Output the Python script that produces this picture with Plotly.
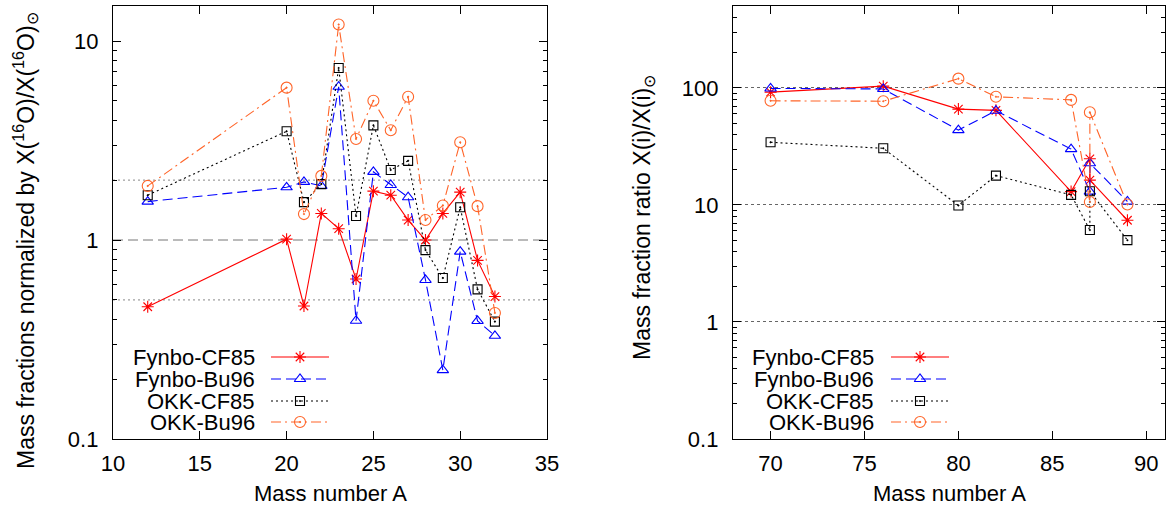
import plotly.graph_objects as go

W, H = 1174, 508

# ---------------- data ----------------
mass_left = [12, 20, 21, 22, 23, 24, 25, 26, 27, 28, 29, 30, 31, 32]
fynbo_cf85_left = [0.462, 1.01, 0.466, 1.36, 1.14, 0.637, 1.76, 1.68, 1.26, 1.00, 1.36, 1.74, 0.79, 0.52]
fynbo_bu96_left = [1.56, 1.84, 1.96, 1.87, 5.89, 0.393, 2.20, 1.89, 1.64, 0.63, 0.222, 0.874, 0.392, 0.330]
okk_cf85_left = [1.68, 3.52, 1.55, 1.91, 7.32, 1.32, 3.77, 2.25, 2.50, 0.89, 0.644, 1.46, 0.565, 0.389]
okk_bu96_left = [1.87, 5.83, 1.35, 2.10, 12.1, 3.22, 5.01, 3.56, 5.25, 1.26, 1.49, 3.10, 1.48, 0.43]

mass_right = [70, 76, 80, 82, 86, 87, 87, 89]
fynbo_cf85_right = [92, 103.5, 65.9, 64.3, 13.0, 24.8, 16.3, 7.4]
fynbo_bu96_right = [99, 98, 43.6, 63.8, 30, 13, 22.7, 10.7]
okk_cf85_right = [34.3, 30.5, 9.9, 17.8, 12.2, 6.1, 13.1, 5.0]
okk_bu96_right = [77.6, 77, 120, 84, 79, 10.6, 62, 10.1]

series_names = ["Fynbo-CF85", "Fynbo-Bu96", "OKK-CF85", "OKK-Bu96"]
left_values = [fynbo_cf85_left, fynbo_bu96_left, okk_cf85_left, okk_bu96_left]
right_values = [fynbo_cf85_right, fynbo_bu96_right, okk_cf85_right, okk_bu96_right]

left_xticks = [10, 15, 20, 25, 30, 35]
right_xticks = [70, 75, 80, 85, 90]
left_yticks = [0.1, 1, 10]
right_yticks = [0.1, 1, 10, 100]
left_dotted_refs = [0.5, 2]
left_dashed_refs = [1]

# ---------------- styles ----------------
FONT = "Liberation Sans, Arial, sans-serif"
FS = 22
FS_YT = 23
styles = [
    dict(color="#ff0000", dash="solid", symbol="asterisk-open", size=10),
    dict(color="#0000ff", dash="10px,5px", symbol="triangle-up-open", size=10),
    dict(color="#000000", dash="2px,3px", symbol="square-open-dot", size=9),
    dict(color="#ff6428", dash="10px,4px,2px,4px", symbol="circle-open-dot", size=11),
]

# pixel geometry
LX0, LX1 = 113, 547
RX0, RX1 = 733, 1165
PY0, PY1 = 6, 439


def px(x):
    return x / W


def py(y):
    return 1 - y / H


fig = go.Figure()


def add_series(xs, ys, st, xa, ya, name):
    fig.add_trace(go.Scatter(
        x=xs, y=ys, mode="lines+markers", name=name, showlegend=False,
        xaxis=xa, yaxis=ya, cliponaxis=False,
        line=dict(color=st["color"], width=1.1, dash=st["dash"]),
        marker=dict(symbol=st["symbol"], size=st["size"], color=st["color"],
                    line=dict(color=st["color"], width=1.1)),
    ))


# reference lines on left panel (drawn first, underneath)
for v in left_dotted_refs:
    fig.add_shape(type="line", xref="x domain", yref="y", x0=0, x1=1, y0=v, y1=v,
                  line=dict(color="#888888", width=1, dash="2px,3px"), layer="below")
for v in left_dashed_refs:
    fig.add_shape(type="line", xref="x domain", yref="y", x0=0, x1=1, y0=v, y1=v,
                  line=dict(color="#777777", width=1, dash="10px,5px"), layer="below")

for name, vals, st in zip(series_names, left_values, styles):
    add_series(mass_left, vals, st, "x", "y", name)
for name, vals, st in zip(series_names, right_values, styles):
    add_series(mass_right, vals, st, "x2", "y2", name)

# ---------------- custom gnuplot-style keys ----------------
key_rows = [357, 379, 401, 422]
keys = [
    dict(text_right=257, line0=271, line1=329),
    dict(text_right=876, line0=891, line1=949),
]
annotations = []
for k in keys:
    for name, st, yr in zip(series_names, styles, key_rows):
        fig.add_trace(go.Scatter(
            x=[k["line0"], k["line1"]], y=[yr, yr], mode="lines", showlegend=False,
            xaxis="x3", yaxis="y3", hoverinfo="skip",
            line=dict(color=st["color"], width=1.1, dash=st["dash"]),
        ))
        fig.add_trace(go.Scatter(
            x=[(k["line0"] + k["line1"]) / 2], y=[yr], mode="markers", showlegend=False,
            xaxis="x3", yaxis="y3", hoverinfo="skip",
            marker=dict(symbol=st["symbol"], size=st["size"], color=st["color"],
                        line=dict(color=st["color"], width=1.1)),
        ))
        annotations.append(dict(
            x=px(k["text_right"]), y=py(yr), xref="paper", yref="paper",
            text=name, showarrow=False, xanchor="right", yanchor="middle",
            font=dict(family=FONT, size=FS, color="black"),
        ))

# axis titles
annotations += [
    dict(x=px(25), y=py(241), xref="paper", yref="paper", textangle=-90,
         text="Mass fractions normalized by X(<sup>16</sup>O)/X(<sup>16</sup>O)<sub>⊙</sub>",
         showarrow=False, xanchor="center", yanchor="middle",
         font=dict(family=FONT, size=FS_YT, color="black")),
    dict(x=px(643), y=py(218), xref="paper", yref="paper", textangle=-90,
         text="Mass fraction ratio X(i)/X(i)<sub>⊙</sub>",
         showarrow=False, xanchor="center", yanchor="middle",
         font=dict(family=FONT, size=FS_YT, color="black")),
    dict(x=px((LX0 + LX1) / 2), y=py(493), xref="paper", yref="paper",
         text="Mass number A", showarrow=False, xanchor="center", yanchor="middle",
         font=dict(family=FONT, size=FS, color="black")),
    dict(x=px((RX0 + RX1) / 2), y=py(493), xref="paper", yref="paper",
         text="Mass number A", showarrow=False, xanchor="center", yanchor="middle",
         font=dict(family=FONT, size=FS, color="black")),
]


def minor_vals(lo_exp, hi_exp):
    out = []
    for e in range(lo_exp, hi_exp + 1):
        for m in range(2, 10):
            out.append(m * 10 ** e)
    return out


tickfont = dict(family=FONT, size=FS, color="black")
common_x = dict(showline=True, linecolor="black", linewidth=1.3, mirror="ticks",
                ticks="inside", ticklen=8, tickwidth=1, tickcolor="black",
                showgrid=False, zeroline=False, tickfont=tickfont, ticklabelstandoff=4,
                fixedrange=True)
common_y = dict(type="log", showline=True, linecolor="black", linewidth=1.3, mirror="ticks",
                ticks="inside", ticklen=8, tickwidth=1, tickcolor="black",
                zeroline=False, tickfont=tickfont, ticklabelstandoff=9, fixedrange=True)

fig.update_layout(
    width=W, height=H,
    margin=dict(l=0, r=0, t=0, b=0, autoexpand=False),
    paper_bgcolor="white", plot_bgcolor="rgba(0,0,0,0)",
    showlegend=False,
    font=dict(family=FONT, size=FS, color="black"),
    xaxis=dict(domain=[px(LX0), px(LX1)], range=[10, 35], tickmode="array",
               tickvals=left_xticks, anchor="y", **common_x),
    yaxis=dict(domain=[py(PY1), py(PY0)], range=[-1, 1.176], tickmode="array",
               tickvals=left_yticks, ticktext=[str(v) for v in left_yticks], anchor="x",
               showgrid=False,
               minor=dict(tickmode="array", tickvals=minor_vals(-1, 1), ticks="inside",
                          ticklen=4, tickcolor="black", showgrid=False),
               **common_y),
    xaxis2=dict(domain=[px(RX0), px(RX1)], range=[68, 91], tickmode="array",
                tickvals=right_xticks, anchor="y2", **common_x),
    yaxis2=dict(domain=[py(PY1), py(PY0)], range=[-1, 2.7], tickmode="array",
                tickvals=right_yticks, ticktext=[str(v) for v in right_yticks], anchor="x2",
                showgrid=True, gridcolor="#666666", gridwidth=1, griddash="dot",
                minor=dict(tickmode="array", tickvals=minor_vals(-1, 2), ticks="inside",
                           ticklen=4, tickcolor="black", showgrid=False),
                **common_y),
    xaxis3=dict(domain=[0, 1], range=[0, W], visible=False, anchor="y3", fixedrange=True),
    yaxis3=dict(domain=[0, 1], range=[H, 0], visible=False, anchor="x3", fixedrange=True),
    annotations=annotations,
)

fig.write_html(
    "out.html",
    config={"displayModeBar": False},
    post_script="document.body.style.margin='0';document.body.style.overflow='hidden';",
)
